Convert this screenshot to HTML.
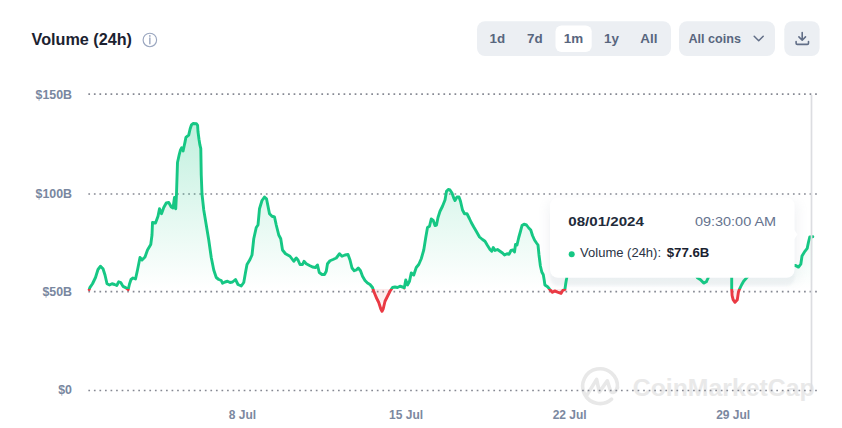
<!DOCTYPE html>
<html><head><meta charset="utf-8"><title>Volume (24h)</title>
<style>
html,body{margin:0;padding:0;background:#fff;}
body{width:842px;height:428px;overflow:hidden;font-family:"Liberation Sans",sans-serif;}
svg{display:block;font-family:"Liberation Sans",sans-serif;}
</style></head><body>
<svg width="842" height="428" viewBox="0 0 842 428">
<defs>
<linearGradient id="gG" gradientUnits="userSpaceOnUse" x1="0" y1="120" x2="0" y2="289">
<stop offset="0" stop-color="#16c784" stop-opacity="0.27"/>
<stop offset="1" stop-color="#16c784" stop-opacity="0"/>
</linearGradient>
<linearGradient id="gR" gradientUnits="userSpaceOnUse" x1="0" y1="289" x2="0" y2="313">
<stop offset="0" stop-color="#ea3943" stop-opacity="0.11"/>
<stop offset="1" stop-color="#ea3943" stop-opacity="0.03"/>
</linearGradient>
<clipPath id="cU"><rect x="0" y="0" width="842" height="289"/></clipPath>
<clipPath id="cD"><rect x="0" y="289" width="842" height="140"/></clipPath>
<filter id="sh" x="-10%" y="-20%" width="120%" height="150%">
<feGaussianBlur stdDeviation="5"/>
</filter>
<filter id="sh2" x="-5%" y="-10%" width="110%" height="120%"><feGaussianBlur stdDeviation="0.9"/></filter>
</defs>
<rect width="842" height="428" fill="#fff"/>

<!-- header -->
<text x="31.6" y="44.6" font-size="16" font-weight="700" fill="#1c2230" textLength="100.4" lengthAdjust="spacingAndGlyphs">Volume (24h)</text>
<g fill="none" stroke="#9aa6bf" stroke-width="1.15">
<circle cx="149.85" cy="39.95" r="6.75"/>
<path d="M149.85 38V43.7" stroke-width="1.4" stroke-linecap="round"/>
</g>
<circle cx="149.85" cy="35.9" r="0.85" fill="#9aa6bf"/>

<rect x="477" y="21.2" width="194" height="34.8" rx="8" fill="#eceff3"/>
<rect x="555.5" y="25.5" width="36.2" height="26.4" rx="6" fill="#fff"/>
<g font-size="13.4" font-weight="700" fill="#58667e" text-anchor="middle">
<text x="497.4" y="43.2">1d</text>
<text x="534.8" y="43.2">7d</text>
<text x="573.5" y="43.2">1m</text>
<text x="611.4" y="43.2">1y</text>
<text x="648.8" y="43.2">All</text>
</g>
<rect x="679" y="21.2" width="96" height="34.8" rx="8" fill="#eceff3"/>
<text x="688.5" y="43.2" font-size="13" font-weight="700" fill="#58667e" textLength="52.5" lengthAdjust="spacingAndGlyphs">All coins</text>
<path d="M754.2 36.3L758.7 40.8L763.2 36.3" fill="none" stroke="#616e87" stroke-width="1.5" stroke-linecap="round" stroke-linejoin="round"/>
<rect x="784.3" y="21.2" width="35.3" height="34.8" rx="8" fill="#eceff3"/>
<g fill="none" stroke="#616e87" stroke-width="1.6" stroke-linecap="round" stroke-linejoin="round">
<path d="M802.2 32.6V40M798.9 36.9L802.2 40.2L805.5 36.9"/>
<path d="M796.1 41.6V43.2Q796.1 44.4 797.3 44.4H807.3Q808.5 44.4 808.5 43.2V41.6"/>
</g>

<!-- watermark -->
<g fill="none" stroke="#e8e8e8" stroke-width="3.6" stroke-linecap="round" stroke-linejoin="round">
<path d="M611.6 399.2A17.4 17.4 0 1 1 617.4 387.5"/>
<path d="M587.2 394.6L596.6 379.4L599.4 392L607.3 380.8L610.3 390.2C611.4 393.6 615.6 393.2 617.4 387.5"/>
</g>
<text x="632.8" y="395.8" font-size="24" font-weight="700" fill="#e9e9e9" textLength="181.8" lengthAdjust="spacingAndGlyphs">CoinMarketCap</text>

<!-- grid -->
<g stroke="#868993" stroke-width="1.6" stroke-dasharray="1.7 3.848" fill="none">
<path d="M88.35 94.1H817"/>
<path d="M88.35 194.0H817"/>
<path d="M88.35 291.65H817"/>
<path d="M88.35 390.45H817"/>
</g>
<g font-size="12.4" font-weight="700" fill="#7987a0" text-anchor="end">
<text x="72" y="98.5">$150B</text>
<text x="72" y="197.5">$100B</text>
<text x="72" y="296.2">$50B</text>
<text x="72" y="394.2">$0</text>
</g>
<g font-size="12" font-weight="700" fill="#7b88a0" text-anchor="middle">
<text x="242.5" y="418.5">8 Jul</text>
<text x="406.1" y="418.5">15 Jul</text>
<text x="569.7" y="418.5">22 Jul</text>
<text x="733.2" y="418.5">29 Jul</text>
</g>


<!-- tooltip shadow -->
<rect x="546" y="200" width="254" height="84" rx="10" fill="#8a94a8" opacity="0.08" filter="url(#sh)"/>
<rect x="550.3" y="210" width="244.2" height="75.8" rx="8" fill="#e8ecef" opacity="0.55" filter="url(#sh2)"/>

<!-- series -->
<polygon points="89.2,289 89.2,289.6 90,287.3 92.5,283.75 95.5,277.5 98,269.5 100.5,266.25 103,268.75 105,275 107,283.75 109.5,285 112,283.75 114.5,284.5 116.75,285.5 118.75,281.75 120.75,282.5 123,286.4 126,287.9 128.2,289.6 129.5,284 131,279.5 133,278 135.5,279 137.5,270 140,257.5 142,260 145,257 147.5,250 150.75,244.5 152,235 152.5,222.5 155.5,223 158,216.25 159.5,208.75 161.5,213.75 163.75,207.5 166.25,203 168.75,202.5 171.25,207 173,208 174.5,197.5 175.75,208.75 176.5,193.75 177.5,162.5 179.3,154.3 180.3,150.5 181.7,147.7 183.1,151 184,146.8 185,142.1 185.9,137.4 188.7,135.1 190.1,129 191.5,124.8 193,123.5 196.5,123.75 197.6,125.3 198,131.8 199,139.3 199.9,144.9 200.8,148.6 201.25,175 202,194 203.75,210 206.25,225 208.75,240 211.25,257.5 213.75,270 216.25,277.5 218.75,279.5 221.25,280.5 222.5,283.25 225,282 227.5,281.25 230,282.5 232.5,282 235.5,279.5 238,284.5 241.25,286 243.75,282.5 245.5,272.5 247,264.5 250,259.5 252,255 253.75,238.75 256.25,227.5 258,225 259.5,208.75 262,200.5 264.5,197 266.5,198.75 268,206.25 269.5,213.75 272,216.25 274.5,217 276.25,225 278.75,235 280.75,238.75 282.5,250 285.5,253.75 290,256.25 293.75,261.25 296.25,258 298,260 300,264.5 302.5,264.5 304,261.25 306.25,263.75 309.5,265.5 312.5,267 315.5,267.5 317.5,265 319.25,272.5 322,274.5 324.5,274.5 326.25,271.25 327.5,263.75 330,260.75 333,259.5 336.25,258 339.5,253.75 342,256.25 345,255 348,254.5 350,260 352,268 354.25,270.75 356.25,270 358.25,268 360.5,270.75 362.5,276.25 365,280.5 367.5,283 370,284.5 372.5,287.5 373.75,291.25 376.25,297.5 378.75,302.5 380.75,308.75 382,311.25 383.25,308.75 385,301.25 387.5,296.25 390,291.25 392.5,287.5 395,287 397.5,287.5 400,286.25 402.5,287 404.25,288 405.75,280 407.5,285 409.5,281.25 411.25,273 413.75,275 416.25,267.5 418.75,264.5 421.25,258.75 423.75,250 425.75,237.5 427.5,227.5 429.5,226.25 431.25,219 433.25,220.5 435,225.5 436.5,225 438,217.5 440,211.25 442.5,206.25 445,200 446.5,191.25 448.25,189.5 450,190 452,193 453.75,198 455,200.5 457,197 459,197 460.5,201.25 462.5,210 464.5,213.75 467,213.75 469.5,218.75 471.25,222.5 473.75,227 476.25,231.25 479.5,237 482.5,239.5 485,241.25 487.5,245.5 490,249.5 491.75,251.25 493.25,247.5 495,250.5 497.5,249.5 500,251.25 502.5,253 504.5,255 507,253.75 509,254.25 511,250.5 513,250 514.5,252 515.5,244.5 517,245 518.75,237.5 520.5,231.25 522,225.5 524,224.25 526.5,225 528.75,228 530.75,230 532.5,235.5 534.5,240 536.5,243 538,245 539,255 540.4,266 541.8,272 543.3,274.8 544.2,280 544.9,285 547.6,286.8 549.6,289.2 552.4,292.3 554.7,290.9 557.6,292.1 561.1,293.4 562.8,290.4 564.9,289.5 565.7,283.8 566.6,278.5 568,268 570,262 575,258 580,255 590,250 600,246 610,248 620,252 630,250 640,255 650,258 660,260 670,262 680,263 690,266 694.5,272 697.4,277.8 700.5,279.7 703.7,283.1 706.3,281.8 708.1,278 709.5,272 712,265 718,262 724,264 728,268 731,272 731.5,275 731.7,277.6 731.7,289.2 732.1,295.5 733.1,299.7 735,302.3 737.3,299.7 738.4,292.3 739.4,289.4 741.5,285 743.6,281.3 746.8,277.6 750,274 756,270 764,268 772,270 780,267 788,266 795.3,265.4 798.5,267.1 800.8,264.2 802,256 804.9,251.3 807.2,248.4 808.4,242.5 809.8,236.9 812.8,236.7 812.8,289" fill="url(#gG)" clip-path="url(#cU)"/>
<polygon points="89.2,289 89.2,289.6 90,287.3 92.5,283.75 95.5,277.5 98,269.5 100.5,266.25 103,268.75 105,275 107,283.75 109.5,285 112,283.75 114.5,284.5 116.75,285.5 118.75,281.75 120.75,282.5 123,286.4 126,287.9 128.2,289.6 129.5,284 131,279.5 133,278 135.5,279 137.5,270 140,257.5 142,260 145,257 147.5,250 150.75,244.5 152,235 152.5,222.5 155.5,223 158,216.25 159.5,208.75 161.5,213.75 163.75,207.5 166.25,203 168.75,202.5 171.25,207 173,208 174.5,197.5 175.75,208.75 176.5,193.75 177.5,162.5 179.3,154.3 180.3,150.5 181.7,147.7 183.1,151 184,146.8 185,142.1 185.9,137.4 188.7,135.1 190.1,129 191.5,124.8 193,123.5 196.5,123.75 197.6,125.3 198,131.8 199,139.3 199.9,144.9 200.8,148.6 201.25,175 202,194 203.75,210 206.25,225 208.75,240 211.25,257.5 213.75,270 216.25,277.5 218.75,279.5 221.25,280.5 222.5,283.25 225,282 227.5,281.25 230,282.5 232.5,282 235.5,279.5 238,284.5 241.25,286 243.75,282.5 245.5,272.5 247,264.5 250,259.5 252,255 253.75,238.75 256.25,227.5 258,225 259.5,208.75 262,200.5 264.5,197 266.5,198.75 268,206.25 269.5,213.75 272,216.25 274.5,217 276.25,225 278.75,235 280.75,238.75 282.5,250 285.5,253.75 290,256.25 293.75,261.25 296.25,258 298,260 300,264.5 302.5,264.5 304,261.25 306.25,263.75 309.5,265.5 312.5,267 315.5,267.5 317.5,265 319.25,272.5 322,274.5 324.5,274.5 326.25,271.25 327.5,263.75 330,260.75 333,259.5 336.25,258 339.5,253.75 342,256.25 345,255 348,254.5 350,260 352,268 354.25,270.75 356.25,270 358.25,268 360.5,270.75 362.5,276.25 365,280.5 367.5,283 370,284.5 372.5,287.5 373.75,291.25 376.25,297.5 378.75,302.5 380.75,308.75 382,311.25 383.25,308.75 385,301.25 387.5,296.25 390,291.25 392.5,287.5 395,287 397.5,287.5 400,286.25 402.5,287 404.25,288 405.75,280 407.5,285 409.5,281.25 411.25,273 413.75,275 416.25,267.5 418.75,264.5 421.25,258.75 423.75,250 425.75,237.5 427.5,227.5 429.5,226.25 431.25,219 433.25,220.5 435,225.5 436.5,225 438,217.5 440,211.25 442.5,206.25 445,200 446.5,191.25 448.25,189.5 450,190 452,193 453.75,198 455,200.5 457,197 459,197 460.5,201.25 462.5,210 464.5,213.75 467,213.75 469.5,218.75 471.25,222.5 473.75,227 476.25,231.25 479.5,237 482.5,239.5 485,241.25 487.5,245.5 490,249.5 491.75,251.25 493.25,247.5 495,250.5 497.5,249.5 500,251.25 502.5,253 504.5,255 507,253.75 509,254.25 511,250.5 513,250 514.5,252 515.5,244.5 517,245 518.75,237.5 520.5,231.25 522,225.5 524,224.25 526.5,225 528.75,228 530.75,230 532.5,235.5 534.5,240 536.5,243 538,245 539,255 540.4,266 541.8,272 543.3,274.8 544.2,280 544.9,285 547.6,286.8 549.6,289.2 552.4,292.3 554.7,290.9 557.6,292.1 561.1,293.4 562.8,290.4 564.9,289.5 565.7,283.8 566.6,278.5 568,268 570,262 575,258 580,255 590,250 600,246 610,248 620,252 630,250 640,255 650,258 660,260 670,262 680,263 690,266 694.5,272 697.4,277.8 700.5,279.7 703.7,283.1 706.3,281.8 708.1,278 709.5,272 712,265 718,262 724,264 728,268 731,272 731.5,275 731.7,277.6 731.7,289.2 732.1,295.5 733.1,299.7 735,302.3 737.3,299.7 738.4,292.3 739.4,289.4 741.5,285 743.6,281.3 746.8,277.6 750,274 756,270 764,268 772,270 780,267 788,266 795.3,265.4 798.5,267.1 800.8,264.2 802,256 804.9,251.3 807.2,248.4 808.4,242.5 809.8,236.9 812.8,236.7 812.8,289" fill="url(#gR)" clip-path="url(#cD)"/>
<polyline points="89.2,289.6 90,287.3 92.5,283.75 95.5,277.5 98,269.5 100.5,266.25 103,268.75 105,275 107,283.75 109.5,285 112,283.75 114.5,284.5 116.75,285.5 118.75,281.75 120.75,282.5 123,286.4 126,287.9 128.2,289.6 129.5,284 131,279.5 133,278 135.5,279 137.5,270 140,257.5 142,260 145,257 147.5,250 150.75,244.5 152,235 152.5,222.5 155.5,223 158,216.25 159.5,208.75 161.5,213.75 163.75,207.5 166.25,203 168.75,202.5 171.25,207 173,208 174.5,197.5 175.75,208.75 176.5,193.75 177.5,162.5 179.3,154.3 180.3,150.5 181.7,147.7 183.1,151 184,146.8 185,142.1 185.9,137.4 188.7,135.1 190.1,129 191.5,124.8 193,123.5 196.5,123.75 197.6,125.3 198,131.8 199,139.3 199.9,144.9 200.8,148.6 201.25,175 202,194 203.75,210 206.25,225 208.75,240 211.25,257.5 213.75,270 216.25,277.5 218.75,279.5 221.25,280.5 222.5,283.25 225,282 227.5,281.25 230,282.5 232.5,282 235.5,279.5 238,284.5 241.25,286 243.75,282.5 245.5,272.5 247,264.5 250,259.5 252,255 253.75,238.75 256.25,227.5 258,225 259.5,208.75 262,200.5 264.5,197 266.5,198.75 268,206.25 269.5,213.75 272,216.25 274.5,217 276.25,225 278.75,235 280.75,238.75 282.5,250 285.5,253.75 290,256.25 293.75,261.25 296.25,258 298,260 300,264.5 302.5,264.5 304,261.25 306.25,263.75 309.5,265.5 312.5,267 315.5,267.5 317.5,265 319.25,272.5 322,274.5 324.5,274.5 326.25,271.25 327.5,263.75 330,260.75 333,259.5 336.25,258 339.5,253.75 342,256.25 345,255 348,254.5 350,260 352,268 354.25,270.75 356.25,270 358.25,268 360.5,270.75 362.5,276.25 365,280.5 367.5,283 370,284.5 372.5,287.5 373.75,291.25 376.25,297.5 378.75,302.5 380.75,308.75 382,311.25 383.25,308.75 385,301.25 387.5,296.25 390,291.25 392.5,287.5 395,287 397.5,287.5 400,286.25 402.5,287 404.25,288 405.75,280 407.5,285 409.5,281.25 411.25,273 413.75,275 416.25,267.5 418.75,264.5 421.25,258.75 423.75,250 425.75,237.5 427.5,227.5 429.5,226.25 431.25,219 433.25,220.5 435,225.5 436.5,225 438,217.5 440,211.25 442.5,206.25 445,200 446.5,191.25 448.25,189.5 450,190 452,193 453.75,198 455,200.5 457,197 459,197 460.5,201.25 462.5,210 464.5,213.75 467,213.75 469.5,218.75 471.25,222.5 473.75,227 476.25,231.25 479.5,237 482.5,239.5 485,241.25 487.5,245.5 490,249.5 491.75,251.25 493.25,247.5 495,250.5 497.5,249.5 500,251.25 502.5,253 504.5,255 507,253.75 509,254.25 511,250.5 513,250 514.5,252 515.5,244.5 517,245 518.75,237.5 520.5,231.25 522,225.5 524,224.25 526.5,225 528.75,228 530.75,230 532.5,235.5 534.5,240 536.5,243 538,245 539,255 540.4,266 541.8,272 543.3,274.8 544.2,280 544.9,285 547.6,286.8 549.6,289.2 552.4,292.3 554.7,290.9 557.6,292.1 561.1,293.4 562.8,290.4 564.9,289.5 565.7,283.8 566.6,278.5 568,268 570,262 575,258 580,255 590,250 600,246 610,248 620,252 630,250 640,255 650,258 660,260 670,262 680,263 690,266 694.5,272 697.4,277.8 700.5,279.7 703.7,283.1 706.3,281.8 708.1,278 709.5,272 712,265 718,262 724,264 728,268 731,272 731.5,275 731.7,277.6 731.7,289.2 732.1,295.5 733.1,299.7 735,302.3 737.3,299.7 738.4,292.3 739.4,289.4 741.5,285 743.6,281.3 746.8,277.6 750,274 756,270 764,268 772,270 780,267 788,266 795.3,265.4 798.5,267.1 800.8,264.2 802,256 804.9,251.3 807.2,248.4 808.4,242.5 809.8,236.9 812.8,236.7" fill="none" stroke="#16c784" stroke-width="2.9" stroke-linejoin="round" stroke-linecap="round" clip-path="url(#cU)"/>
<polyline points="89.2,289.6 90,287.3 92.5,283.75 95.5,277.5 98,269.5 100.5,266.25 103,268.75 105,275 107,283.75 109.5,285 112,283.75 114.5,284.5 116.75,285.5 118.75,281.75 120.75,282.5 123,286.4 126,287.9 128.2,289.6 129.5,284 131,279.5 133,278 135.5,279 137.5,270 140,257.5 142,260 145,257 147.5,250 150.75,244.5 152,235 152.5,222.5 155.5,223 158,216.25 159.5,208.75 161.5,213.75 163.75,207.5 166.25,203 168.75,202.5 171.25,207 173,208 174.5,197.5 175.75,208.75 176.5,193.75 177.5,162.5 179.3,154.3 180.3,150.5 181.7,147.7 183.1,151 184,146.8 185,142.1 185.9,137.4 188.7,135.1 190.1,129 191.5,124.8 193,123.5 196.5,123.75 197.6,125.3 198,131.8 199,139.3 199.9,144.9 200.8,148.6 201.25,175 202,194 203.75,210 206.25,225 208.75,240 211.25,257.5 213.75,270 216.25,277.5 218.75,279.5 221.25,280.5 222.5,283.25 225,282 227.5,281.25 230,282.5 232.5,282 235.5,279.5 238,284.5 241.25,286 243.75,282.5 245.5,272.5 247,264.5 250,259.5 252,255 253.75,238.75 256.25,227.5 258,225 259.5,208.75 262,200.5 264.5,197 266.5,198.75 268,206.25 269.5,213.75 272,216.25 274.5,217 276.25,225 278.75,235 280.75,238.75 282.5,250 285.5,253.75 290,256.25 293.75,261.25 296.25,258 298,260 300,264.5 302.5,264.5 304,261.25 306.25,263.75 309.5,265.5 312.5,267 315.5,267.5 317.5,265 319.25,272.5 322,274.5 324.5,274.5 326.25,271.25 327.5,263.75 330,260.75 333,259.5 336.25,258 339.5,253.75 342,256.25 345,255 348,254.5 350,260 352,268 354.25,270.75 356.25,270 358.25,268 360.5,270.75 362.5,276.25 365,280.5 367.5,283 370,284.5 372.5,287.5 373.75,291.25 376.25,297.5 378.75,302.5 380.75,308.75 382,311.25 383.25,308.75 385,301.25 387.5,296.25 390,291.25 392.5,287.5 395,287 397.5,287.5 400,286.25 402.5,287 404.25,288 405.75,280 407.5,285 409.5,281.25 411.25,273 413.75,275 416.25,267.5 418.75,264.5 421.25,258.75 423.75,250 425.75,237.5 427.5,227.5 429.5,226.25 431.25,219 433.25,220.5 435,225.5 436.5,225 438,217.5 440,211.25 442.5,206.25 445,200 446.5,191.25 448.25,189.5 450,190 452,193 453.75,198 455,200.5 457,197 459,197 460.5,201.25 462.5,210 464.5,213.75 467,213.75 469.5,218.75 471.25,222.5 473.75,227 476.25,231.25 479.5,237 482.5,239.5 485,241.25 487.5,245.5 490,249.5 491.75,251.25 493.25,247.5 495,250.5 497.5,249.5 500,251.25 502.5,253 504.5,255 507,253.75 509,254.25 511,250.5 513,250 514.5,252 515.5,244.5 517,245 518.75,237.5 520.5,231.25 522,225.5 524,224.25 526.5,225 528.75,228 530.75,230 532.5,235.5 534.5,240 536.5,243 538,245 539,255 540.4,266 541.8,272 543.3,274.8 544.2,280 544.9,285 547.6,286.8 549.6,289.2 552.4,292.3 554.7,290.9 557.6,292.1 561.1,293.4 562.8,290.4 564.9,289.5 565.7,283.8 566.6,278.5 568,268 570,262 575,258 580,255 590,250 600,246 610,248 620,252 630,250 640,255 650,258 660,260 670,262 680,263 690,266 694.5,272 697.4,277.8 700.5,279.7 703.7,283.1 706.3,281.8 708.1,278 709.5,272 712,265 718,262 724,264 728,268 731,272 731.5,275 731.7,277.6 731.7,289.2 732.1,295.5 733.1,299.7 735,302.3 737.3,299.7 738.4,292.3 739.4,289.4 741.5,285 743.6,281.3 746.8,277.6 750,274 756,270 764,268 772,270 780,267 788,266 795.3,265.4 798.5,267.1 800.8,264.2 802,256 804.9,251.3 807.2,248.4 808.4,242.5 809.8,236.9 812.8,236.7" fill="none" stroke="#ea3943" stroke-width="2.9" stroke-linejoin="round" stroke-linecap="round" clip-path="url(#cD)"/>

<!-- crosshair -->
<path d="M811.5 95V390.6" stroke="#dcdde1" stroke-width="1.7" fill="none"/>

<!-- tooltip -->
<rect x="550" y="197.6" width="244.6" height="80.2" rx="8" fill="#fff"/>
<path d="M794 229.5L797.5 234.5L794 239.5Z" fill="#fff"/>
<text x="568.3" y="225.7" font-size="13" font-weight="700" fill="#222b3a" textLength="75.6" lengthAdjust="spacingAndGlyphs">08/01/2024</text>
<text x="694.9" y="225.9" font-size="13.5" fill="#65738e" textLength="81.2" lengthAdjust="spacingAndGlyphs">09:30:00 AM</text>
<circle cx="571.7" cy="254.2" r="3" fill="#16c784"/>
<text x="580.1" y="256.6" font-size="13" fill="#2a3445">Volume (24h):</text>
<text x="666.7" y="256.6" font-size="13" font-weight="700" fill="#1a2230" textLength="42.6" lengthAdjust="spacingAndGlyphs">$77.6B</text>
</svg>
</body></html>
